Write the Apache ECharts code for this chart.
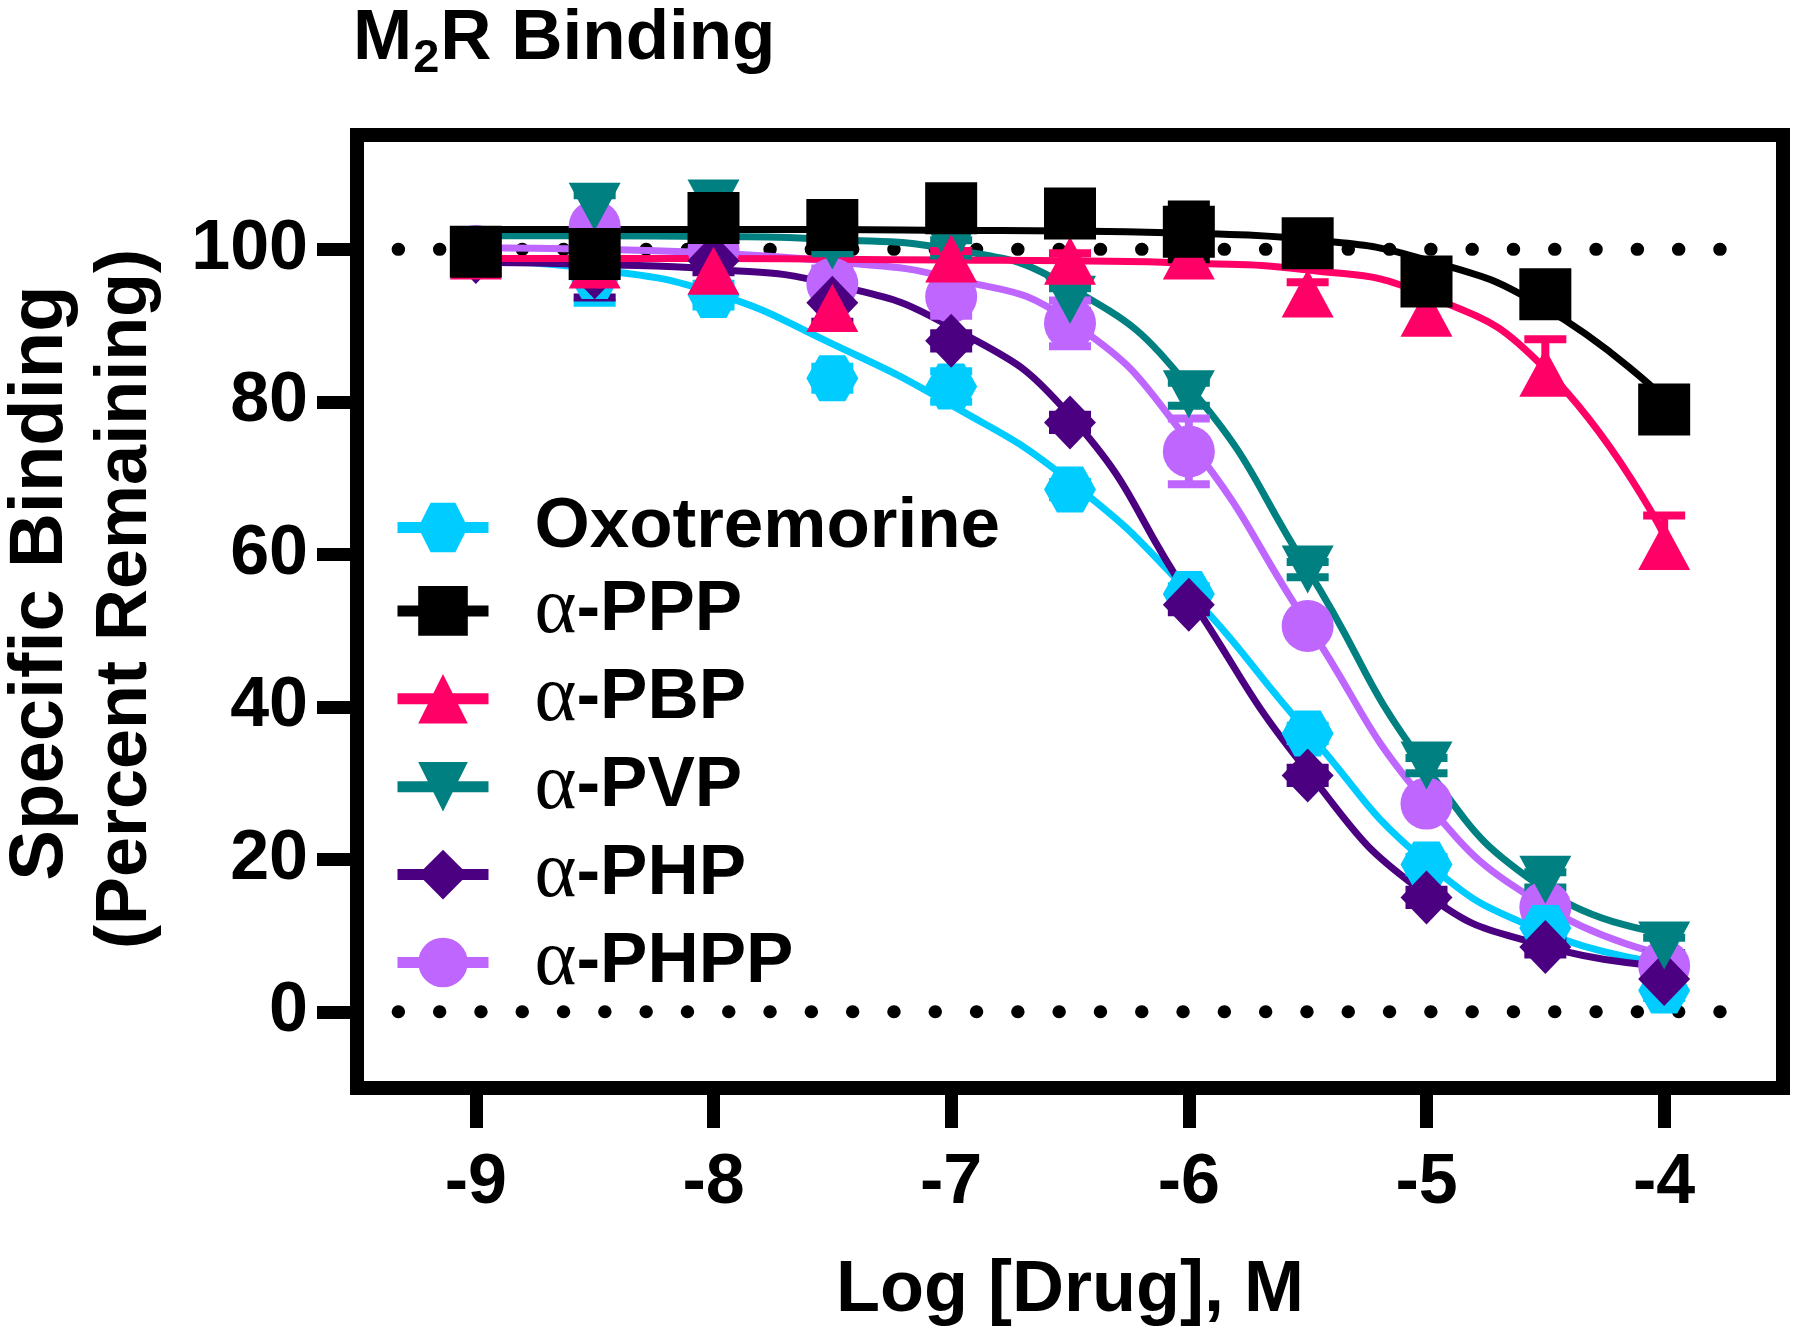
<!DOCTYPE html>
<html>
<head>
<meta charset="utf-8">
<script src="https://cdn.jsdelivr.net/npm/echarts@6/dist/echarts.min.js"></script>
<style>
html,body{margin:0;padding:0;background:#ffffff;}
#chart{width:1800px;height:1344px;}
</style>
</head>
<body>
<div id="chart"></div>
<script>
// ---------------- data ----------------
const logDose = [-9, -8.5, -8, -7.5, -7, -6.5, -6, -5.5, -5, -4.5, -4];
const xTicks = [-9, -8, -7, -6, -5, -4];
const yTicks = [0, 20, 40, 60, 80, 100];
const refLevels = [0, 100];
const refExtent = [-9.327, -3.627];
const drugNames = ['Oxotremorine', 'α-PPP', 'α-PBP', 'α-PVP', 'α-PHP', 'α-PHPP'];

// mean specific binding (% remaining)
const oxoMean  = [99.5, 96.5, 94.0, 83.1, 82.0, 68.5, 54.8, 36.5, 19.3, 11.0, 2.8];
const pppMean  = [99.7, 99.4, 104.1, 103.2, 105.4, 104.7, 102.3, 100.8, 95.8, 94.1, 79.0];
const pbpMean  = [99.2, 98.0, 97.2, 92.3, 98.8, 98.5, 99.2, 94.2, 91.7, 83.8, 61.1];
const pvpMean  = [99.8, 105.6, 106.0, 100.5, 100.2, 93.4, 81.0, 58.0, 32.3, 17.3, 8.7];
const phpMean  = [99.0, 97.0, 98.5, 93.0, 88.0, 77.3, 53.4, 31.0, 15.0, 8.5, 4.3];
const phppMean = [99.8, 103.0, 100.0, 95.5, 93.8, 90.3, 73.5, 50.6, 27.3, 13.7, 6.0];

// SEM
const oxoErr  = [1.0, 3.5, 1.5, 1.5, 2.0, 1.0, 1.0, 1.0, 1.0, 1.0, 1.0];
const pppErr  = [1.0, 1.0, 1.0, 1.0, 1.0, 1.0, 3.6, 1.0, 1.0, 1.0, 1.0];
const pbpErr  = [1.0, 1.0, 2.0, 2.5, 1.0, 1.0, 1.0, 1.5, 1.5, 4.4, 4.0];
const pvpErr  = [1.0, 1.5, 1.0, 1.0, 1.0, 1.5, 1.5, 1.0, 1.0, 1.0, 1.0];
const phpErr  = [1.0, 3.3, 1.5, 2.5, 1.0, 1.0, 1.0, 1.0, 1.0, 1.0, 1.0];
const phppErr = [1.0, 1.5, 1.0, 2.0, 2.5, 3.0, 4.3, 1.0, 1.0, 1.0, 1.0];

// fitted curve at each dose
const oxoFit  = [98.6, 97.4, 94.3, 87.6, 79.6, 69.6, 55.0, 36.7, 19.6, 10.4, 6.4];
const pppFit  = [102.6, 102.6, 102.6, 102.6, 102.5, 102.4, 102.1, 101.3, 98.6, 92.3, 80.5];
const pbpFit  = [98.8, 98.8, 98.8, 98.7, 98.6, 98.5, 98.2, 97.3, 94.0, 84.3, 62.5];
const pvpFit  = [101.8, 101.8, 101.7, 101.3, 100.0, 95.0, 82.0, 58.0, 32.0, 16.0, 10.3];
const phpFit  = [98.3, 98.0, 97.4, 95.4, 89.8, 78.2, 54.5, 31.5, 15.4, 8.6, 6.0];
const phppFit = [100.2, 100.0, 99.5, 98.4, 96.2, 90.6, 74.8, 50.8, 27.4, 13.8, 7.5];

// ---------------- styles ----------------
const FONT = '"Liberation Sans", Arial, Helvetica, sans-serif';
const SERIF = '"Liberation Serif", "Times New Roman", serif';
const HEX = 'path://M0,8.66L5,0L15,0L20,8.66L15,17.32L5,17.32Z';
const TRI_DOWN = 'path://M0,0L20,0L10,18Z';

const drugs = {
  'Oxotremorine': {mean: oxoMean, err: oxoErr, fit: oxoFit, color: '#00CCFF', symbol: HEX, size: [52, 46], errDir: 'both'},
  'α-PPP':  {mean: pppMean,  err: pppErr,  fit: pppFit,  color: '#000000', symbol: 'rect', size: [52, 52], errDir: 'both'},
  'α-PBP':  {mean: pbpMean,  err: pbpErr,  fit: pbpFit,  color: '#FF0066', symbol: 'triangle', size: [52, 48], errDir: 'up'},
  'α-PVP':  {mean: pvpMean,  err: pvpErr,  fit: pvpFit,  color: '#008080', symbol: TRI_DOWN, size: [52, 48], errDir: 'both'},
  'α-PHP':  {mean: phpMean,  err: phpErr,  fit: phpFit,  color: '#4B0082', symbol: 'diamond', size: [52, 54], errDir: 'both'},
  'α-PHPP': {mean: phppMean, err: phppErr, fit: phppFit, color: '#BF66FF', symbol: 'circle', size: [52, 52], errDir: 'both'}
};
// draw order bottom -> top
const drawOrder = ['α-PHPP', 'Oxotremorine', 'α-PHP', 'α-PVP', 'α-PBP', 'α-PPP'];

function errRenderer(color, dir) {
  return function (params, api) {
    const x = api.value(0), y = api.value(1), e = api.value(2);
    if (!e) return null;
    const top = api.coord([x, y + e]);
    const bot = dir === 'up' ? api.coord([x, y]) : api.coord([x, y - e]);
    const cw = 21;
    const st = {stroke: color, lineWidth: 8};
    const kids = [
      {type: 'line', shape: {x1: top[0], y1: top[1], x2: bot[0], y2: bot[1]}, style: st},
      {type: 'line', shape: {x1: top[0] - cw, y1: top[1], x2: top[0] + cw, y2: top[1]}, style: st}
    ];
    if (dir !== 'up') {
      kids.push({type: 'line', shape: {x1: bot[0] - cw, y1: bot[1], x2: bot[0] + cw, y2: bot[1]}, style: st});
    }
    return {type: 'group', children: kids};
  };
}

const series = [];
refLevels.forEach(function (lv) {
  series.push({
    type: 'line', name: 'ref' + lv, silent: true, z: 1, symbol: 'none',
    data: [[refExtent[0], lv], [refExtent[1], lv]],
    lineStyle: {color: '#000', width: 13, type: [0.5, 40.8], cap: 'round'}
  });
});
drawOrder.forEach(function (n) {
  const d = drugs[n];
  series.push({
    type: 'line', name: n + ' fit', silent: true, z: 2, symbol: 'none',
    smooth: 0.5,
    data: logDose.map(function (x, i) { return [x, d.fit[i]]; }),
    lineStyle: {color: d.color, width: 7}
  });
});
drawOrder.forEach(function (n) {
  const d = drugs[n];
  series.push({
    type: 'custom', name: n + ' err', silent: true, z: 3,
    encode: {x: 0, y: 1},
    data: logDose.map(function (x, i) { return [x, d.mean[i], d.err[i]]; }),
    renderItem: errRenderer(d.color, d.errDir)
  });
});
drawOrder.forEach(function (n) {
  const d = drugs[n];
  series.push({
    type: 'line', name: n, z: 4,
    symbol: d.symbol, symbolSize: d.size, showSymbol: true, showAllSymbol: true,
    data: logDose.map(function (x, i) { return [x, d.mean[i]]; }),
    lineStyle: {color: d.color, width: 0, opacity: 0},
    itemStyle: {color: d.color, opacity: 1},
    emphasis: {disabled: true}
  });
});

// title pieces (M, subscript 2, R Binding) placed by measured text width
const mctx = document.createElement('canvas').getContext('2d');
function textWidth(t, size) { mctx.font = 'bold ' + size + 'px ' + FONT; return mctx.measureText(t).width; }
const TITLE_SIZE = 71, SUB_SIZE = 47, TITLE_X = 353;
const wM = textWidth('M', TITLE_SIZE), w2 = textWidth('2', SUB_SIZE);

const chart = echarts.init(document.getElementById('chart'), null, {renderer: 'canvas'});
chart.setOption({
  animation: false,
  backgroundColor: '#ffffff',
  grid: {
    left: 357, top: 135, width: 1426, height: 953,
    show: true, borderColor: '#000', borderWidth: 14, backgroundColor: 'transparent',
    containLabel: false, outerBoundsMode: 'none'
  },
  legend: {
    data: drugNames,
    orient: 'vertical', left: 392, top: 492, padding: 0,
    itemWidth: 91, itemHeight: 62, itemGap: 7.9,
    selectedMode: false,
    lineStyle: {width: 11, opacity: 1},
    formatter: function (name) {
      if (name.charAt(0) === 'α') return '{g|α}{b|' + name.slice(1) + '}';
      return '{b|' + name + '}';
    },
    textStyle: {
      padding: [0, 0, 0, 41],
      color: '#000',
      rich: {
        g: {fontFamily: SERIF, fontWeight: 'normal', fontSize: 80, lineHeight: 80, color: '#000'},
        b: {fontFamily: FONT, fontWeight: 'bold', fontSize: 71, lineHeight: 80, color: '#000'}
      }
    }
  },
  xAxis: {
    type: 'value', min: -9.5, max: -3.5,
    name: 'Log [Drug], M', nameLocation: 'middle', nameGap: 167,
    nameTextStyle: {fontFamily: FONT, fontWeight: 'bold', fontSize: 72, color: '#000'},
    axisLine: {show: false, onZero: false},
    axisTick: {show: true, customValues: xTicks, length: 40, lineStyle: {color: '#000', width: 13}},
    axisLabel: {customValues: xTicks, margin: 61, fontFamily: FONT, fontWeight: 'bold', fontSize: 70, color: '#000'},
    splitLine: {show: false}
  },
  yAxis: {
    type: 'value', min: -10, max: 115,
    axisLine: {show: false, onZero: false},
    axisTick: {show: true, customValues: yTicks, length: 40, lineStyle: {color: '#000', width: 13}},
    axisLabel: {customValues: yTicks, margin: 49, fontFamily: FONT, fontWeight: 'bold', fontSize: 70, color: '#000'},
    splitLine: {show: false}
  },
  graphic: [
    {type: 'text', x: TITLE_X, y: 39,
     style: {text: 'M', align: 'left', verticalAlign: 'middle', fontFamily: FONT, fontWeight: 'bold', fontSize: TITLE_SIZE, fill: '#000'}},
    {type: 'text', x: TITLE_X + wM + 1, y: 59,
     style: {text: '2', align: 'left', verticalAlign: 'middle', fontFamily: FONT, fontWeight: 'bold', fontSize: SUB_SIZE, fill: '#000'}},
    {type: 'text', x: TITLE_X + wM + w2 + 2, y: 39,
     style: {text: 'R Binding', align: 'left', verticalAlign: 'middle', fontFamily: FONT, fontWeight: 'bold', fontSize: TITLE_SIZE, fill: '#000'}},
    {type: 'text', x: 41, y: 583, rotation: Math.PI / 2,
     style: {text: 'Specific Binding', align: 'center', verticalAlign: 'middle', fontFamily: FONT, fontWeight: 'bold', fontSize: 76, fill: '#000'}},
    {type: 'text', x: 126, y: 599, rotation: Math.PI / 2,
     style: {text: '(Percent Remaining)', align: 'center', verticalAlign: 'middle', fontFamily: FONT, fontWeight: 'bold', fontSize: 72, fill: '#000'}}
  ],
  series: series
});
</script>
</body>
</html>
